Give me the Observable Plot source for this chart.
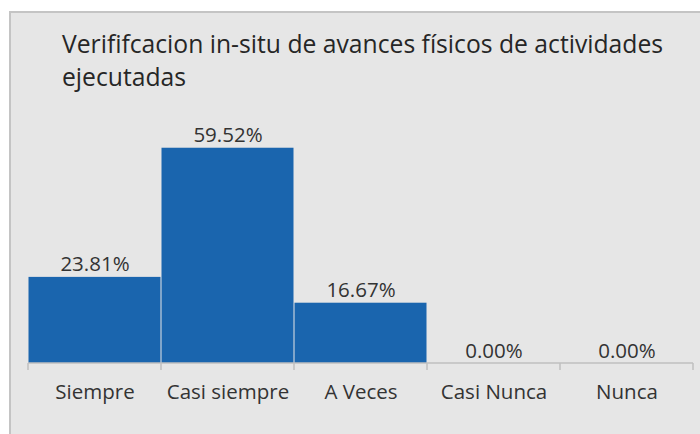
<!DOCTYPE html>
<html>
<head>
<meta charset="utf-8">
<script src="https://cdn.jsdelivr.net/npm/d3@7"></script>
<script src="https://cdn.jsdelivr.net/npm/@observablehq/plot@0.6"></script>
<style>
  html, body { margin: 0; padding: 0; background: #ffffff; width: 700px; height: 434px; overflow: hidden; }
  #frame { position: absolute; left: 9px; top: 11px; right: 0; bottom: 0; background: #e6e6e6;
           border-top: 2px solid #c4c4c4; border-left: 2px solid #c4c4c4; }
  #title { position: absolute; left: 62px; top: 27px; width: 632px; font-family: "Open Sans", sans-serif;
           font-size: 24.7px; line-height: 33px; color: #262626; }
  #chart { position: absolute; left: 0; top: 100px; }
</style>
</head>
<body>
<div id="frame"></div>
<div id="title">Verififcacion in-situ de avances físicos de actividades ejecutadas</div>
<div id="chart"></div>
<script>
const categories = ["Siempre", "Casi siempre", "A Veces", "Casi Nunca", "Nunca"];
const values = [23.81, 59.52, 16.67, 0.00, 0.00];
const valueLabels = ["23.81%", "59.52%", "16.67%", "0.00%", "0.00%"];

const data = categories.map((c, i) => ({category: c, value: values[i], label: valueLabels[i]}));

const plot = Plot.plot({
  width: 700,
  height: 334,
  marginLeft: 26,
  marginRight: 6,
  marginTop: 46,
  marginBottom: 71,
  style: {background: "transparent", fontFamily: "Open Sans, sans-serif", color: "#404040"},
  x: {domain: categories, padding: 0},
  y: {domain: [0, 60], axis: null},
  marks: [
    Plot.barY(data, {x: "category", y: "value", fill: "#1a65ae", insetLeft: 0.5, insetRight: 0.5}),
    Plot.text(data, {x: "category", y: "value", text: "label", lineAnchor: "bottom", dy: -6,
                     fontSize: 20.5, fill: "#333333"}),
    Plot.axisX({tickSize: 0, tickPadding: 21, fontSize: 20.5, fill: "#333333", label: null})
  ]
});

document.getElementById("chart").appendChild(plot);

// Axis line and boundary ticks from the band scale
const xs = plot.scale("x");
const ys = plot.scale("y");
const bw = xs.bandwidth;
const y0 = ys.apply(0);
const svg = d3.select(plot);
const edges = categories.map(c => xs.apply(c)).concat([xs.apply(categories[categories.length - 1]) + bw]);
const g = svg.append("g").attr("stroke", "#bfbfbf").attr("stroke-width", 1.5);
g.append("line").attr("x1", edges[0]).attr("x2", edges[edges.length - 1]).attr("y1", y0).attr("y2", y0);
edges.forEach(e => g.append("line").attr("x1", e).attr("x2", e).attr("y1", y0).attr("y2", y0 + 7));
</script>
</body>
</html>
